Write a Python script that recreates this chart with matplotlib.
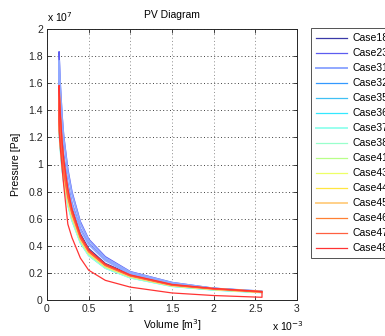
import numpy as np
import matplotlib
matplotlib.use("Agg")
import matplotlib.pyplot as plt

plt.rcParams["font.family"] = ["Liberation Sans", "DejaVu Sans"]

# volume samples, units of 1e-3 m^3
VOLUME = [0.145, 0.16, 0.18, 0.2, 0.25, 0.3, 0.4, 0.5, 0.7, 1.0, 1.5, 2.0, 2.58]

# pressure, units of 1e7 Pa: expansion (upper) and compression (lower) branches
EXP_18 = [1.68, 1.45, 1.22, 1.07, 0.84, 0.69, 0.49, 0.380, 0.270, 0.190, 0.118, 0.087, 0.063]
CMP_18 = [1.35, 1.20, 1.05, 0.95, 0.77, 0.645, 0.465, 0.363, 0.260, 0.183, 0.113, 0.083, 0.059]
EXP_23 = [1.83, 1.60, 1.38, 1.22, 0.97, 0.80, 0.58, 0.450, 0.320, 0.210, 0.130, 0.087, 0.065]
CMP_23 = [1.45, 1.32, 1.17, 1.06, 0.86, 0.72, 0.53, 0.418, 0.298, 0.197, 0.122, 0.082, 0.060]
EXP_31 = [1.76, 1.55, 1.34, 1.19, 0.94, 0.78, 0.565, 0.440, 0.310, 0.205, 0.127, 0.085, 0.064]
CMP_31 = [1.42, 1.29, 1.14, 1.03, 0.84, 0.705, 0.52, 0.410, 0.292, 0.193, 0.120, 0.081, 0.060]
EXP_32 = [1.53, 1.34, 1.14, 1.01, 0.79, 0.65, 0.465, 0.358, 0.256, 0.178, 0.110, 0.082, 0.061]
CMP_32 = [1.30, 1.16, 1.02, 0.92, 0.74, 0.62, 0.445, 0.347, 0.249, 0.173, 0.107, 0.079, 0.057]
EXP_35 = [1.50, 1.31, 1.11, 0.98, 0.77, 0.635, 0.452, 0.350, 0.250, 0.174, 0.108, 0.080, 0.060]
CMP_35 = [1.28, 1.14, 1.00, 0.90, 0.725, 0.61, 0.437, 0.340, 0.243, 0.169, 0.105, 0.077, 0.056]
EXP_36 = [1.45, 1.26, 1.07, 0.945, 0.745, 0.61, 0.436, 0.336, 0.240, 0.167, 0.104, 0.076, 0.058]
CMP_36 = [1.24, 1.11, 0.97, 0.87, 0.70, 0.585, 0.422, 0.327, 0.234, 0.163, 0.101, 0.074, 0.055]
EXP_37 = [1.46, 1.27, 1.08, 0.955, 0.75, 0.615, 0.44, 0.340, 0.243, 0.169, 0.105, 0.077, 0.059]
CMP_37 = [1.25, 1.12, 0.98, 0.88, 0.705, 0.59, 0.426, 0.331, 0.237, 0.165, 0.102, 0.075, 0.055]
EXP_38 = [1.47, 1.28, 1.09, 0.96, 0.755, 0.62, 0.445, 0.343, 0.245, 0.171, 0.106, 0.078, 0.059]
CMP_38 = [1.26, 1.13, 0.99, 0.89, 0.71, 0.595, 0.431, 0.334, 0.239, 0.167, 0.103, 0.076, 0.056]
EXP_41 = [1.48, 1.29, 1.10, 0.97, 0.765, 0.63, 0.45, 0.347, 0.248, 0.173, 0.107, 0.079, 0.060]
CMP_41 = [1.27, 1.14, 1.00, 0.90, 0.72, 0.605, 0.436, 0.338, 0.242, 0.169, 0.104, 0.077, 0.056]
EXP_43 = [1.49, 1.30, 1.11, 0.98, 0.77, 0.635, 0.455, 0.351, 0.251, 0.175, 0.108, 0.080, 0.060]
CMP_43 = [1.28, 1.15, 1.01, 0.91, 0.725, 0.61, 0.441, 0.342, 0.245, 0.171, 0.105, 0.078, 0.057]
EXP_44 = [1.50, 1.31, 1.12, 0.99, 0.78, 0.64, 0.46, 0.355, 0.254, 0.177, 0.110, 0.081, 0.061]
CMP_44 = [1.29, 1.16, 1.02, 0.92, 0.735, 0.615, 0.446, 0.346, 0.248, 0.173, 0.107, 0.079, 0.057]
EXP_45 = [1.52, 1.33, 1.14, 1.01, 0.79, 0.65, 0.465, 0.360, 0.257, 0.179, 0.111, 0.082, 0.061]
CMP_45 = [1.30, 1.17, 1.03, 0.93, 0.745, 0.625, 0.451, 0.351, 0.251, 0.175, 0.108, 0.080, 0.058]
EXP_46 = [1.55, 1.35, 1.15, 1.02, 0.80, 0.66, 0.47, 0.364, 0.260, 0.181, 0.112, 0.083, 0.062]
CMP_46 = [1.32, 1.18, 1.04, 0.94, 0.755, 0.635, 0.456, 0.355, 0.254, 0.177, 0.109, 0.081, 0.058]
EXP_47 = [1.56, 1.36, 1.16, 1.03, 0.81, 0.665, 0.475, 0.367, 0.262, 0.183, 0.113, 0.084, 0.062]
CMP_47 = [1.33, 1.19, 1.05, 0.95, 0.765, 0.64, 0.461, 0.358, 0.256, 0.179, 0.110, 0.082, 0.058]
EXP_48 = [1.58, 1.38, 1.18, 1.04, 0.82, 0.67, 0.48, 0.370, 0.265, 0.185, 0.115, 0.085, 0.062]
CMP_48 = [1.25, 1.12, 0.98, 0.85, 0.56, 0.46, 0.31, 0.220, 0.145, 0.095, 0.052, 0.033, 0.020]

CASE_NAMES = ["Case18", "Case23", "Case31", "Case32", "Case35", "Case36", "Case37",
              "Case38", "Case41", "Case43", "Case44", "Case45", "Case46", "Case47", "Case48"]
EXPANSION = [EXP_18, EXP_23, EXP_31, EXP_32, EXP_35, EXP_36, EXP_37, EXP_38,
             EXP_41, EXP_43, EXP_44, EXP_45, EXP_46, EXP_47, EXP_48]
COMPRESSION = [CMP_18, CMP_23, CMP_31, CMP_32, CMP_35, CMP_36, CMP_37, CMP_38,
               CMP_41, CMP_43, CMP_44, CMP_45, CMP_46, CMP_47, CMP_48]
COLORS = ["#3a3aa8", "#5c5cf0", "#90a8ff", "#3399ff", "#40c0f4", "#33e8ff", "#99ffee",
          "#99ffcc", "#b8ff88", "#eeff66", "#ffe640", "#ffd088", "#ff8033", "#ff6040", "#ff3333"]
WIDTHS = [0.9, 0.9, 1.4, 0.9, 0.9, 0.9, 1.4, 0.9, 0.9, 0.9, 0.9, 1.4, 0.9, 0.9, 0.9]

fig = plt.figure(figsize=(3.85, 3.36), dpi=100)
ax = fig.add_axes([47 / 385, 36 / 336, 250 / 385, 271 / 336])

for name, p_exp, p_cmp, col, lw in zip(CASE_NAMES, EXPANSION, COMPRESSION, COLORS, WIDTHS):
    # closed loop: expansion out to max volume, compression back to min volume
    v = np.array(VOLUME + VOLUME[::-1] + VOLUME[:1]) * 1e-3
    p = np.array(p_exp + p_cmp[::-1] + p_exp[:1]) * 1e7
    ax.plot(v, p, color=col, lw=lw, label=name)

ax.set_xlim(0, 3e-3)
ax.set_ylim(0, 2e7)
xt = np.arange(0, 3.01, 0.5)
yt = np.arange(0, 2.01, 0.2)
ax.set_xticks(xt * 1e-3)
ax.set_xticklabels([f"{t:g}" for t in xt])
ax.set_yticks(yt * 1e7)
ax.set_yticklabels([f"{t:g}" for t in yt])
ax.tick_params(direction="in", top=True, right=True, labelsize=7.5, length=3,
               width=0.6, colors="#262626", pad=3)
for s in ax.spines.values():
    s.set_linewidth(0.7)
    s.set_color("#262626")
ax.xaxis.grid(True, linestyle=(0, (1, 2.5)), color="#8c8c8c", linewidth=0.7)
ax.yaxis.grid(True, linestyle=(0, (1, 2.5)), color="#404040", linewidth=0.7)

ax.set_title("PV Diagram", fontsize=7.5, pad=8)
ax.set_xlabel("Volume [m$^3$]", fontsize=7.5, labelpad=2)
ax.set_ylabel("Pressure [Pa]", fontsize=7.5, labelpad=5)
fig.text(47 / 385, 1 - 22 / 336, r"x 10$^7$", fontsize=7.5, va="baseline")
fig.text(272 / 385, 1 - 331 / 336, r"x 10$^{-3}$", fontsize=7.5, va="baseline")

# legend sits right of the axes and runs past the figure edge, as in the source
leg = fig.legend(loc="upper left", bbox_to_anchor=(311 / 385, 1 - 28 / 336),
                 fontsize=7.5, frameon=True, fancybox=False, handlelength=3.0,
                 handletextpad=0.5, labelspacing=0.48, borderpad=0.5,
                 borderaxespad=0)
leg.get_frame().set_edgecolor("#262626")
leg.get_frame().set_linewidth(0.7)

fig.savefig("out.png", dpi=100)
